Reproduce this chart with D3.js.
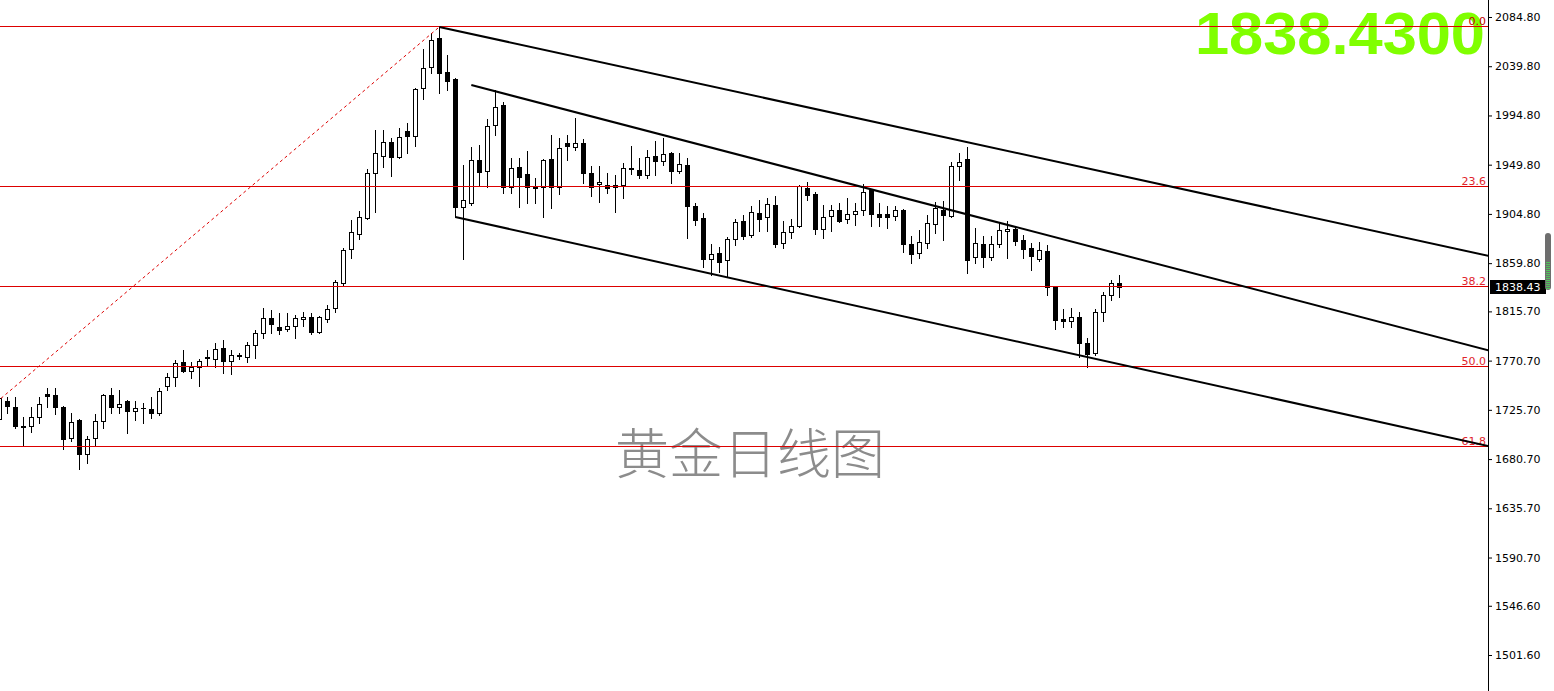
<!DOCTYPE html>
<html>
<head>
<meta charset="utf-8">
<script src="https://cdn.jsdelivr.net/npm/d3@7"></script>
<style>
html,body{margin:0;padding:0;background:#fff;overflow:hidden;}
svg{display:block;}
</style>
</head>
<body>
<svg id="chart" width="1554" height="691"></svg>
<script>
// ---- Data (daily gold candles) ----
const opens = [
1717.3,1733.8,1728.3,1710.9,1710.9,1719.2,1740.2,1739.3,1728.3,1699.9,
1716.4,1685.3,1699.9,1715.5,1739.3,1728.3,1733.8,1724.6,1727.0,1726.5,
1722.8,1747.5,1755.7,1769.4,1761.2,1764.9,1774.0,1772.2,1782.2,1770.3,
1774.9,1774.0,1785.0,1795.9,1809.6,1801.4,1799.6,1802.3,1808.7,1810.6,
1796.8,1808.7,1818.8,1841.6,1872.7,1886.4,1901.1,1942.2,1957.7,1970.5,
1956.8,1980.6,1976.0,2019.9,2039.1,2065.6,2034.5,2028.1,1911.1,1914.8,
1954.1,1944.0,1986.1,2004.4,1929.4,1947.7,1941.3,1930.3,1929.4,1955.0,
1929.4,1969.6,1966.0,1969.6,1942.2,1932.1,1931.2,1929.4,1931.2,1945.9,
1944.9,1940.4,1957.7,1953.2,1960.5,1944.0,1949.5,1912.0,1901.1,1863.6,
1869.1,1862.7,1881.9,1898.3,1885.5,1905.6,1902.0,1913.0,1878.2,1888.3,
1893.8,1928.5,1923.0,1891.0,1902.9,1908.4,1900.2,1904.7,1908.4,1926.7,
1904.7,1904.7,1902.9,1908.4,1877.3,1869.1,1878.2,1895.6,1908.4,1902.9,
1948.6,1955.0,1865.4,1877.3,1865.4,1877.3,1889.2,1891.0,1881.0,1873.6,
1863.6,1870.9,1838.0,1808.7,1806.9,1810.6,1786.8,1777.7,1815.1,1830.7,
1841.6];
const highs = [
1738.4,1737.6,1737.6,1719.2,1728.3,1737.6,1745.7,1745.7,1729.2,1722.8,
1717.3,1701.8,1721.9,1740.2,1745.7,1743.8,1734.7,1733.8,1732.0,1737.6,
1745.7,1759.4,1771.3,1780.4,1769.4,1772.2,1780.4,1786.8,1789.5,1780.4,
1777.7,1787.7,1798.7,1818.8,1817.0,1814.2,1814.2,1812.4,1815.1,1814.2,
1811.5,1821.5,1844.4,1873.6,1899.2,1907.5,1945.9,1981.5,1981.5,1974.2,
1983.3,1987.9,2019.9,2055.5,2070.2,2075.7,2050.1,2029.0,1949.5,1966.0,
1967.8,1991.6,2018.1,2007.1,1955.9,1955.9,1962.3,1937.6,1955.0,1976.9,
1974.2,1976.9,1992.5,1973.3,1948.6,1948.6,1942.2,1940.4,1951.3,1966.9,
1955.9,1963.2,1971.5,1974.2,1961.4,1960.5,1955.9,1914.8,1905.6,1877.3,
1874.6,1883.7,1900.2,1903.8,1912.0,1917.5,1919.3,1921.2,1898.3,1900.2,
1931.2,1934.0,1924.8,1913.0,1913.0,1914.8,1919.3,1914.8,1932.1,1927.6,
1914.8,1912.0,1912.0,1909.3,1884.6,1890.1,1903.8,1915.7,1916.6,1952.2,
1960.5,1966.0,1891.9,1884.6,1884.6,1896.5,1898.3,1893.8,1885.5,1878.2,
1879.1,1876.4,1838.9,1817.9,1818.8,1815.1,1791.4,1817.9,1833.4,1844.4,
1849.0];
const lows = [
1724.6,1722.8,1709.1,1693.6,1705.4,1713.7,1728.3,1721.9,1689.9,1697.2,
1671.6,1677.1,1692.7,1709.1,1722.8,1722.8,1704.5,1716.4,1713.7,1718.2,
1721.0,1743.8,1747.5,1760.3,1754.8,1747.5,1765.8,1764.9,1759.4,1758.5,
1772.2,1769.4,1773.1,1791.4,1795.9,1795.0,1797.8,1791.4,1802.3,1795.0,
1795.9,1806.0,1815.1,1839.8,1864.5,1881.9,1900.2,1906.5,1947.7,1939.5,
1955.9,1960.5,1966.9,2009.8,2033.6,2015.3,2018.1,1902.0,1863.6,1913.0,
1931.2,1929.4,1976.9,1923.9,1923.9,1911.1,1914.8,1914.8,1902.0,1910.2,
1923.0,1954.1,1963.2,1933.1,1921.2,1915.7,1923.9,1906.5,1919.3,1941.3,
1937.6,1937.6,1940.4,1949.5,1933.1,1942.2,1882.8,1894.7,1856.3,1849.0,
1851.7,1848.0,1876.4,1881.9,1883.7,1889.2,1889.2,1874.6,1873.6,1882.8,
1892.8,1917.5,1886.4,1882.8,1889.2,1897.4,1896.5,1894.7,1903.8,1893.8,
1893.8,1892.0,1899.2,1870.0,1859.9,1864.5,1873.6,1887.4,1881.0,1902.0,
1935.8,1850.8,1859.9,1856.3,1862.7,1874.6,1864.5,1876.4,1864.5,1853.5,
1861.8,1830.7,1799.6,1801.4,1801.4,1774.0,1764.9,1775.8,1806.9,1826.1,
1828.8];
const closes = [
1736.5,1729.2,1710.9,1710.0,1719.2,1731.0,1738.4,1728.3,1699.0,1714.6,
1685.3,1699.0,1715.5,1739.3,1728.3,1731.0,1724.6,1727.4,1727.6,1722.8,
1742.9,1755.7,1768.5,1761.2,1764.9,1770.3,1773.1,1781.3,1770.3,1775.8,
1775.8,1785.0,1795.9,1809.6,1804.2,1798.7,1802.3,1809.6,1810.6,1796.8,
1810.6,1817.9,1842.6,1871.8,1888.3,1902.0,1942.2,1960.5,1970.5,1956.8,
1975.1,1976.0,2019.0,2038.2,2063.8,2033.6,2026.3,1911.1,1917.5,1954.1,
1943.1,1985.2,2002.5,1929.4,1946.8,1938.5,1929.4,1928.5,1954.1,1929.4,
1965.0,1966.9,1969.6,1942.2,1929.4,1934.0,1928.5,1931.2,1946.8,1946.8,
1940.4,1956.8,1953.2,1959.6,1944.0,1950.4,1912.0,1899.2,1863.6,1868.2,
1860.8,1881.9,1897.4,1884.6,1906.5,1900.2,1913.9,1877.3,1888.3,1893.8,
1930.3,1922.1,1891.0,1902.0,1908.4,1898.3,1904.7,1907.5,1924.8,1904.7,
1902.0,1902.0,1908.4,1877.3,1868.2,1879.1,1896.5,1910.2,1903.8,1948.6,
1952.2,1862.7,1878.2,1865.4,1877.3,1890.1,1891.0,1880.0,1872.7,1866.3,
1871.8,1838.0,1807.8,1806.9,1810.6,1786.8,1776.7,1815.1,1830.7,1841.6,
1838.43];

const tickLabels = ["2084.80","2039.80","1994.80","1949.80","1904.80","1859.80","1815.70",
                    "1770.70","1725.70","1680.70","1635.70","1590.70","1546.60","1501.60"];
// Fibonacci retracement anchors (bar index, price)
const fibAnchorLow = [-45, 1456.0];
const fibAnchorHigh = [55, 2075.7];
const fibLevels = [0.0, 23.6, 38.2, 50.0, 61.8];
const fibLabels = ["0.0", "23.6", "38.2", "50.0", "61.8"];
// Channel trend lines (start bar, start price, second bar, second price) - rays to the right
const trendUpper = [55, 2075.7, 121, 1970.4];
const trendMiddle = [59, 2022.6, 131, 1885.3];
const trendLower = [57, 1902.0, 131, 1782.0];
const lastPrice = "1838.43";
const bigPrice = "1838.4300";
const watermark = "黄金日线图";

// ---- Layout ----
const W = 1554, H = 691, plotRight = 1488;
const svg = d3.select("#chart");
const x = d3.scaleLinear().domain([0, 1]).range([-0.7, 7.3]);
const y = d3.scaleLinear().domain([1501.6, 2084.8]).range([655, 17]);

svg.append("rect").attr("width", W).attr("height", H).attr("fill", "#fff");
svg.append("defs").append("clipPath").attr("id", "plotclip")
  .append("rect").attr("x", 0).attr("y", 0).attr("width", plotRight).attr("height", H);

// watermark
svg.append("text").attr("x", 750).attr("y", 474).attr("text-anchor", "middle")
  .attr("font-family", "'Noto Sans CJK SC','Noto Sans CJK JP',sans-serif")
  .attr("font-weight", 300).attr("font-size", 54).attr("fill", "#8c8c8c")
  .text(watermark);

// big green price
svg.append("text").attr("x", 1485).attr("y", 54).attr("text-anchor", "end")
  .attr("font-family", "'Liberation Sans',Arial,sans-serif").attr("font-weight", "bold")
  .attr("font-size", 59).attr("textLength", 290).attr("lengthAdjust", "spacingAndGlyphs")
  .attr("fill", "#80ff00").text(bigPrice);

const plot = svg.append("g").attr("clip-path", "url(#plotclip)");

// candles
const data = opens.map((o, i) => ({i, o, h: highs[i], l: lows[i], c: closes[i]}));
const cg = plot.append("g");
data.forEach(d => {
  const cx = Math.round(x(d.i));
  cg.append("line").attr("x1", cx + 0.5).attr("x2", cx + 0.5)
    .attr("y1", Math.round(y(d.h))).attr("y2", Math.round(y(d.l)) + 1)
    .attr("stroke", "#000").attr("stroke-width", 1);
  const top = Math.round(y(Math.max(d.o, d.c)));
  const bot = Math.round(y(Math.min(d.o, d.c)));
  if (bot - top < 1) {
    cg.append("line").attr("x1", cx - 2).attr("x2", cx + 3)
      .attr("y1", top + 0.5).attr("y2", top + 0.5).attr("stroke", "#000");
  } else {
    cg.append("rect").attr("x", cx - 1.5).attr("y", top + 0.5)
      .attr("width", 4).attr("height", bot - top)
      .attr("fill", d.c >= d.o ? "#fff" : "#000").attr("stroke", "#000").attr("stroke-width", 1);
  }
});

// fibonacci
const fibRange = fibAnchorHigh[1] - fibAnchorLow[1];
const fg = plot.append("g");
fibLevels.forEach((lv, k) => {
  const yy = 2 * Math.round(y(fibAnchorHigh[1] - fibRange * lv / 100) / 2) + 0.5;
  fg.append("line").attr("x1", 0).attr("x2", plotRight).attr("y1", yy).attr("y2", yy)
    .attr("stroke", "#dd0000").attr("stroke-width", 1);
  fg.append("text").attr("x", 1486).attr("y", yy - 2).attr("text-anchor", "end")
    .attr("font-family", "'DejaVu Sans',sans-serif").attr("font-size", 11)
    .attr("fill", k === 0 ? "#c00000" : "#e0242c").text(fibLabels[k]);
});
fg.append("line")
  .attr("x1", x(fibAnchorLow[0])).attr("y1", y(fibAnchorLow[1]))
  .attr("x2", x(fibAnchorHigh[0])).attr("y2", y(fibAnchorHigh[1]))
  .attr("stroke", "#dd0000").attr("stroke-width", 1).attr("stroke-dasharray", "3,3");

// channel rays
const xEnd = x.invert(plotRight + 2);
[trendUpper, trendMiddle, trendLower].forEach(t => {
  const slope = (t[3] - t[1]) / (t[2] - t[0]);
  const pEnd = t[1] + slope * (xEnd - t[0]);
  plot.append("line")
    .attr("x1", x(t[0])).attr("y1", y(t[1]))
    .attr("x2", x(xEnd)).attr("y2", y(pEnd))
    .attr("stroke", "#000").attr("stroke-width", 2);
});

// price axis
const axis = d3.axisRight(y).tickValues(tickLabels.map(Number))
  .tickFormat((d, i) => tickLabels[i]).tickSize(4).tickPadding(3).tickSizeOuter(0);
const ag = svg.append("g").attr("transform", `translate(${plotRight},0)`).call(axis);
ag.select(".domain").remove();
ag.selectAll("text").attr("font-family", "'DejaVu Sans',sans-serif").attr("font-size", 11).attr("fill", "#000");
ag.selectAll("line").attr("stroke", "#000");
svg.append("line").attr("x1", plotRight + 0.5).attr("x2", plotRight + 0.5)
  .attr("y1", 0).attr("y2", H).attr("stroke", "#000");

// current price label
const yp = y(+lastPrice);
svg.append("rect").attr("x", 1490).attr("y", Math.round(yp) - 7).attr("width", 56).attr("height", 14).attr("fill", "#000");
svg.append("text").attr("x", 1495).attr("y", Math.round(yp) + 4)
  .attr("font-family", "'DejaVu Sans',sans-serif").attr("font-size", 11).attr("fill", "#fff").text(lastPrice);

// right-edge slider
svg.append("rect").attr("x", 1545).attr("y", 233).attr("width", 6).attr("height", 57).attr("rx", 3).attr("fill", "#6e6e6e");
const sl = svg.append("g");
d3.range(262, 289, 2).forEach(v => {
  sl.append("line").attr("x1", 1546).attr("x2", 1550).attr("y1", v + 0.5).attr("y2", v + 0.5)
    .attr("stroke", "#4fc35a").attr("stroke-width", 1);
});
</script>
</body>
</html>
